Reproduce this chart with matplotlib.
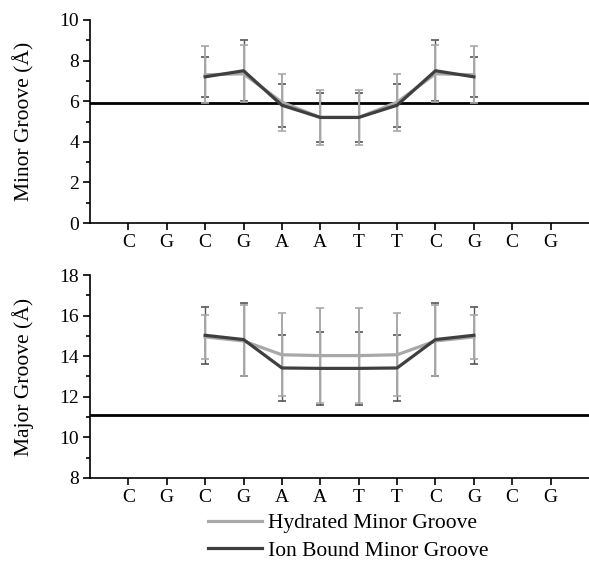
import matplotlib
matplotlib.use("Agg")
import matplotlib.pyplot as plt
from matplotlib.ticker import MultipleLocator

plt.rcParams['font.family'] = ['Liberation Serif', 'DejaVu Serif']

bases = ["C", "G", "C", "G", "A", "A", "T", "T", "C", "G", "C", "G"]
pos = list(range(1, 13))
data_pos = [3, 4, 5, 6, 7, 8, 9, 10]

minor_hyd = [7.3, 7.35, 5.95, 5.2, 5.2, 5.95, 7.35, 7.3]
minor_hyd_err = [1.4, 1.4, 1.4, 1.35, 1.35, 1.4, 1.4, 1.4]
minor_ion = [7.2, 7.5, 5.8, 5.2, 5.2, 5.8, 7.5, 7.2]
minor_ion_err = [1.0, 1.5, 1.05, 1.2, 1.2, 1.05, 1.5, 1.0]
minor_ref = 5.9

major_hyd = [14.95, 14.75, 14.07, 14.03, 14.03, 14.07, 14.75, 14.95]
major_hyd_err = [1.1, 1.75, 2.05, 2.35, 2.35, 2.05, 1.75, 1.1]
major_ion = [15.03, 14.82, 13.42, 13.4, 13.4, 13.42, 14.82, 15.03]
major_ion_err = [1.4, 1.82, 1.63, 1.8, 1.8, 1.63, 1.82, 1.4]
major_ref = 11.12

light = "#a8a8a8"
dark = "#3f3f3f"

fig = plt.figure(figsize=(5.89, 5.63), dpi=100)
ax1 = fig.add_axes([90/589, 1-223/563, 1-90/589, 203/563])
ax2 = fig.add_axes([90/589, 1-478/563, 1-90/589, 203/563])

def panel(ax, hyd, hyd_err, ion, ion_err, ref, ylim, ylabel):
    ax.axhline(ref, color="black", lw=2.0, zorder=1)
    ax.errorbar(data_pos, ion, yerr=ion_err, color=dark, ecolor="#555555",
                elinewidth=1.0, capsize=3, capthick=1.2, lw=0, zorder=2)
    ax.errorbar(data_pos, hyd, yerr=hyd_err, color=light, ecolor=light,
                elinewidth=1.4, capsize=3, capthick=1.2, lw=0, zorder=3)
    ax.plot(data_pos, hyd, color=light, lw=2.3, zorder=4, label="Hydrated Minor Groove")
    ax.plot(data_pos, ion, color=dark, lw=2.3, zorder=5, label="Ion Bound Minor Groove")
    ax.set_xlim(0, 13)
    ax.set_ylim(*ylim)
    ax.set_xticks(pos)
    ax.set_xticklabels(bases)
    ax.yaxis.set_major_locator(MultipleLocator(2))
    ax.yaxis.set_minor_locator(MultipleLocator(1))
    ax.spines['top'].set_visible(False)
    ax.spines['right'].set_visible(False)
    ax.spines['left'].set_linewidth(1.2)
    ax.spines['bottom'].set_linewidth(1.2)
    ax.tick_params(axis='both', which='major', direction='out', length=5, width=1.2,
                   labelsize=14, pad=3)
    ax.tick_params(axis='y', which='minor', direction='out', length=3, width=1.2)
    ax.set_ylabel(ylabel, fontsize=15.5, labelpad=18)

panel(ax1, minor_hyd, minor_hyd_err, minor_ion, minor_ion_err, minor_ref, (0, 10), "Minor Groove (Å)")
panel(ax2, major_hyd, major_hyd_err, major_ion, major_ion_err, major_ref, (8, 18), "Major Groove (Å)")

handles, labels = ax2.get_legend_handles_labels()
fig.legend(handles, labels, loc="center left", bbox_to_anchor=(208/589, 1-537/563),
           frameon=False, fontsize=15.5, handlelength=2.5, handletextpad=0.3,
           borderpad=0, borderaxespad=0, labelspacing=0.35)

fig.savefig("out.png", dpi=100)
